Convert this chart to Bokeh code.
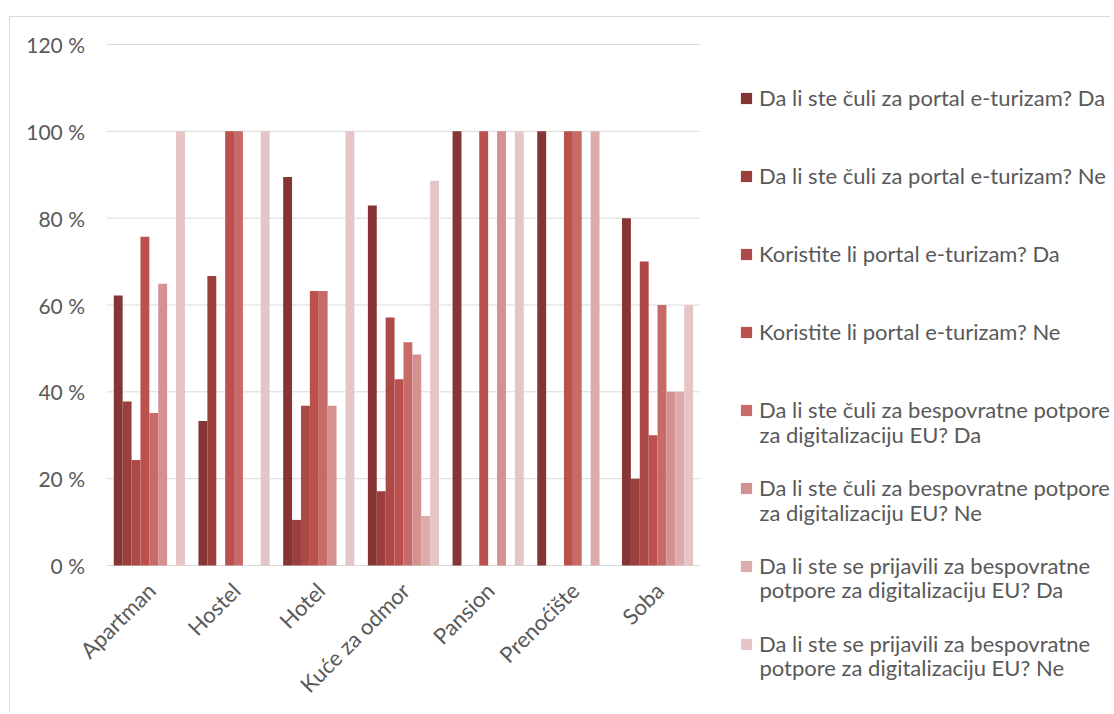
from bokeh.plotting import figure
from bokeh.models import Legend, LegendItem, ColumnDataSource, Label, Range1d
from bokeh.transform import dodge
from bokeh.core.properties import value
from bokeh.embed import file_html
from bokeh.resources import INLINE
from math import pi

categories = ["Apartman", "Hostel", "Hotel", "Kuće za odmor", "Pansion", "Prenoćište", "Soba"]

series_labels = [
    "Da li ste čuli za portal e-turizam? Da",
    "Da li ste čuli za portal e-turizam? Ne",
    "Koristite li portal e-turizam? Da",
    "Koristite li portal e-turizam? Ne",
    "Da li ste čuli za bespovratne potpore\nza digitalizaciju EU? Da",
    "Da li ste čuli za bespovratne potpore\nza digitalizaciju EU? Ne",
    "Da li ste se prijavili za bespovratne\npotpore za digitalizaciju EU? Da",
    "Da li ste se prijavili za bespovratne\npotpore za digitalizaciju EU? Ne",
]

s1 = [62.2, 33.3, 89.5, 82.9, 100, 100, 80]
s2 = [37.8, 66.7, 10.5, 17.1, 0, 0, 20]
s3 = [24.3, 0, 36.8, 57.1, 0, 0, 70]
s4 = [75.7, 100, 63.2, 42.9, 100, 100, 30]
s5 = [35.1, 100, 63.2, 51.4, 0, 100, 60]
s6 = [64.9, 0, 36.8, 48.6, 100, 0, 40]
s7 = [0, 0, 0, 11.4, 0, 100, 40]
s8 = [100, 100, 100, 88.6, 100, 0, 60]

y_ticks = [0, 20, 40, 60, 80, 100, 120]
y_tick_labels = ["0 %", "20 %", "40 %", "60 %", "80 %", "100 %", "120 %"]

colors = ["#853533", "#9b3f3d", "#ad4946", "#bb504d", "#c76b69", "#d39190", "#dcabab", "#e6c5c6"]

FONT = "Lato"
TXT = "#595959"
GRID = "#d9d9d9"

# layout (pixels)
CAT_PX = 84.7            # width of one category
Y_PX = 521 / 120.0       # pixels per percent
LEFT_PX = 96.5           # canvas space left of the first category
TOP_PX = 27              # canvas space above the 120 % line
FRAME_W = 1100
FRAME_H = 695
BELOW0_PX = FRAME_H - TOP_PX - 521  # frame area below the 0 % line

n = len(categories)
series = [s1, s2, s3, s4, s5, s6, s7, s8]
data = {"cat": categories, "xc": [i + 0.5 for i in range(n)]}
for i, s in enumerate(series):
    data[f"s{i+1}"] = s
source = ColumnDataSource(data)

p = figure(x_range=Range1d(-LEFT_PX / CAT_PX, (FRAME_W - LEFT_PX) / CAT_PX),
           y_range=Range1d(-BELOW0_PX / Y_PX, 120 + TOP_PX / Y_PX),
           frame_width=FRAME_W, frame_height=FRAME_H,
           output_backend="svg", toolbar_location=None,
           min_border_left=0, min_border_top=0, min_border_bottom=0, min_border_right=0)
p.styles = {"margin-left": "9px", "margin-top": "16px",
            "border-left": "1px solid #d9d9d9", "border-top": "1px solid #d9d9d9"}

p.outline_line_color = None
p.background_fill_color = "white"
p.border_fill_color = "white"
p.xgrid.visible = False
p.ygrid.visible = False
p.xaxis.visible = False
p.yaxis.visible = False

# horizontal gridlines (and the category axis line at 0 %) spanning the categories only
p.segment(x0=[0] * len(y_ticks), x1=[n] * len(y_ticks), y0=y_ticks, y1=y_ticks,
          line_color=GRID, line_width=1)

# value tick labels
p.text(x=[0] * len(y_ticks), y=y_ticks, text=y_tick_labels, x_offset=-22,
       text_align="right", text_baseline="middle",
       text_font=value(FONT), text_font_size="21px", text_color=TXT)

bw = 0.105
items = []
for i in range(8):
    off = (i - 3.5) * bw
    r = p.vbar(x=dodge("xc", off), top=f"s{i+1}", width=bw,
               source=source, fill_color=colors[i], line_color=None)
    items.append(LegendItem(label=series_labels[i].split("\n")[0], renderers=[r]))

# category labels, rotated 45 degrees
p.text(x="xc", y=0, text="cat", source=source, angle=pi / 4,
       text_align="right", text_baseline="middle", x_offset=2, y_offset=21,
       text_font=value(FONT), text_font_size="22px", text_color=TXT)

# legend: first lines of all entries, uniform pitch of about 77 px
legend = Legend(items=items, location=(729, 55), padding=0, margin=0,
                glyph_width=14, glyph_height=14, label_standoff=6,
                spacing=51, label_text_font=FONT, label_text_font_size="22px",
                label_text_color=TXT, label_height=26,
                border_line_color=None, background_fill_alpha=0)
p.add_layout(legend, "center")

# second lines of the two-line legend entries
for k, i in enumerate(range(4, 8)):
    second = series_labels[i].split("\n")[1]
    lbl = Label(x=749, y=278 - k * 77.5, x_units="screen", y_units="screen", text=second,
                text_font=FONT, text_font_size="22px", text_color=TXT,
                text_baseline="middle", text_align="left")
    p.add_layout(lbl)

open("out.html", "w").write(file_html(p, INLINE))
